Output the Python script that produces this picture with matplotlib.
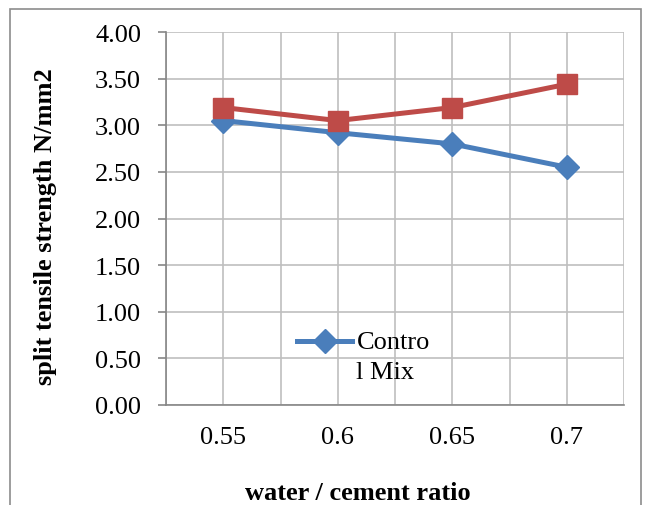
import matplotlib
matplotlib.use("Agg")
import matplotlib.pyplot as plt
from matplotlib.patches import Rectangle
from matplotlib.ticker import FixedLocator

categories = ["0.55", "0.6", "0.65", "0.7"]
control_mix = [3.05, 2.92, 2.80, 2.55]
modified_mix = [3.19, 3.05, 3.19, 3.44]
y_ticks = [0.0, 0.5, 1.0, 1.5, 2.0, 2.5, 3.0, 3.5, 4.0]

plt.rcParams['font.family'] = ['Liberation Serif', 'DejaVu Serif']

W, H = 646, 506
fig = plt.figure(figsize=(W/100, H/100), dpi=100)
fig.patches.append(Rectangle((10/W, -0.1), 631/W, 1.1 - 10/H, transform=fig.transFigure,
                             fill=False, edgecolor='#8c8c8c', linewidth=1.2, zorder=0))
L, R, T, B = 166, 624, 33, 406
ax = fig.add_axes([L/W, 1 - B/H, (R - L)/W, (B - T)/H])

x = list(range(len(categories)))
ax.plot(x, control_mix, color='#4a7ebb', linewidth=3.6, marker='D', markersize=12.5,
        label='Contro\nl Mix', zorder=3)
ax.plot(x, modified_mix, color='#be4b48', linewidth=3.6, marker='s', markersize=14,
        zorder=3)

ax.set_xlim(-0.5, len(categories) - 0.5)
ax.set_ylim(0, 4)
ax.set_xticks(x)
ax.set_xticklabels(categories)
ax.xaxis.set_minor_locator(FixedLocator([i - 0.5 for i in range(len(categories) + 1)]))
ax.set_yticks(y_ticks)
ax.set_yticklabels([f"{v:.2f}" for v in y_ticks])

ax.grid(True, which='both', axis='x', color='#bfbfbf', linewidth=1.2, zorder=0)
ax.grid(True, which='major', axis='y', color='#bfbfbf', linewidth=1.2, zorder=0)
ax.set_axisbelow(True)

for s in ['top', 'right']:
    ax.spines[s].set_visible(False)
for s in ['left', 'bottom']:
    ax.spines[s].set_color('#868686')
    ax.spines[s].set_linewidth(1.2)

ax.tick_params(axis='y', which='major', length=6, width=1.2, color='#868686',
               labelsize=19, pad=12)
ax.tick_params(axis='x', which='both', length=0, labelsize=19, pad=15)

ax.set_xlabel('water / cement ratio', fontsize=19, fontweight='bold')
ax.xaxis.set_label_coords((358 - L)/(R - L), (B - 500)/(B - T))
ax.xaxis.label.set_va('baseline')
ax.set_ylabel('split tensile strength N/mm2', fontsize=19, fontweight='bold')
ax.yaxis.set_label_coords((45 - L)/(R - L), (B - 227)/(B - T))
ax.yaxis.label.set_va('center')

leg = ax.legend(loc='upper left', bbox_to_anchor=((297 - L)/(R - L), (B - 332)/(B - T)),
                frameon=False, fontsize=19, handlelength=2.1, handletextpad=0.15,
                handleheight=0.9, borderaxespad=0, borderpad=0)
for t in leg.get_texts():
    t.set_linespacing(1.45)
for col in leg._legend_handle_box.get_children():
    for item in col.get_children():
        item.align = 'top'

fig.savefig('out.png', dpi=100)
